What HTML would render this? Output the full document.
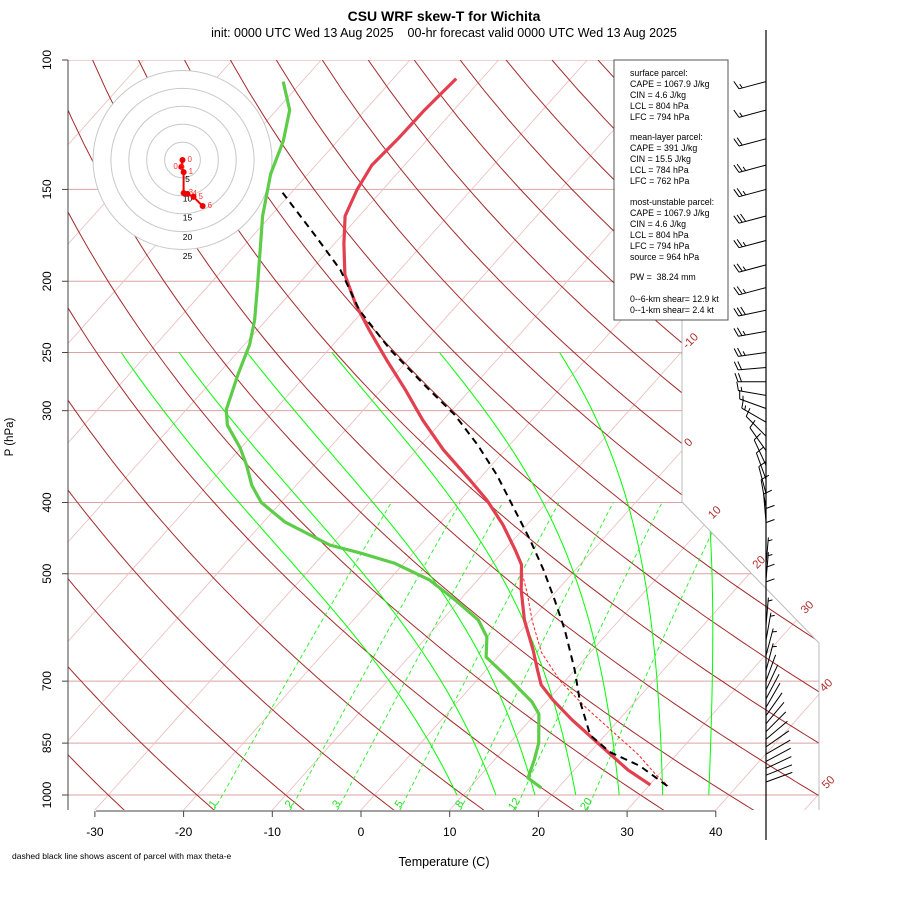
<!DOCTYPE html>
<html><head><meta charset="utf-8"><style>
html,body{margin:0;padding:0;background:#fff;}
svg{display:block;font-family:"Liberation Sans",sans-serif;}
</style></head><body>
<svg id="chart" width="900" height="900" viewBox="0 0 900 900">
<defs><clipPath id="plotclip"><path d="M68,60 L682,60 L682,502 L819,643 L819,810 L68,810 Z"/></clipPath></defs>
<rect x="0" y="0" width="900" height="900" fill="#fff"/>
<g id="grid" clip-path="url(#plotclip)"></g>
<g id="hodo"></g>
<g id="profiles"></g>
<g id="axes"></g>
<g id="barbs"></g>
<text x="444" y="21" text-anchor="middle" font-size="14" font-weight="bold">CSU WRF skew-T for Wichita</text>
<text x="444" y="37" text-anchor="middle" font-size="12.5" xml:space="preserve">init: 0000 UTC Wed 13 Aug 2025    00-hr forecast valid 0000 UTC Wed 13 Aug 2025</text>
<text x="444" y="866" text-anchor="middle" font-size="12.5">Temperature (C)</text>
<text x="0" y="0" transform="translate(13,437) rotate(-90)" text-anchor="middle" font-size="11.5">P (hPa)</text>
<text x="12" y="859" font-size="8.5">dashed black line shows ascent of parcel with max theta-e</text>
<g>
<rect x="614" y="60" width="114" height="260" fill="#fff" stroke="#555" stroke-width="1"/>
<g font-size="8.8" fill="#000">
<text x="630" y="76">surface parcel:</text>
<text x="630" y="87">CAPE = 1067.9 J/kg</text>
<text x="630" y="98">CIN = 4.6 J/kg</text>
<text x="630" y="109">LCL = 804 hPa</text>
<text x="630" y="120">LFC = 794 hPa</text>
<text x="630" y="140">mean-layer parcel:</text>
<text x="630" y="151">CAPE = 391 J/kg</text>
<text x="630" y="162">CIN = 15.5 J/kg</text>
<text x="630" y="173">LCL = 784 hPa</text>
<text x="630" y="184">LFC = 762 hPa</text>
<text x="630" y="205">most-unstable parcel:</text>
<text x="630" y="216">CAPE = 1067.9 J/kg</text>
<text x="630" y="227">CIN = 4.6 J/kg</text>
<text x="630" y="238">LCL = 804 hPa</text>
<text x="630" y="249">LFC = 794 hPa</text>
<text x="630" y="260">source = 964 hPa</text>
<text x="630" y="280" xml:space="preserve">PW =  38.24 mm</text>
<text x="630" y="302">0--6-km shear= 12.9 kt</text>
<text x="630" y="313">0--1-km shear= 2.4 kt</text>
</g>
</g>
</svg>
<script>
// ---- data ----
const tempP = [106,117,128,139,150,163,178,196,215,233,256,281,309,339,373,397,429,464,486,526,578,635,676,708,743,790,855,925,969];
const tempT = [-62.9,-63.3,-63.4,-63.7,-62.9,-61.6,-58.9,-55.7,-51.5,-47.4,-42.4,-37.3,-32.3,-27.0,-20.9,-17.0,-12.7,-8.8,-6.6,-4.1,-0.7,3.3,5.8,7.7,10.6,14.7,20.4,26.1,30.1];
const dewP = [107,117,129,143,163,181,206,226,244,268,299,314,337,356,379,400,425,457,469,484,510,543,578,610,649,700,747,776,850,896,948,978];
const dewT = [-82.1,-78.5,-76.1,-74.2,-70.9,-67.8,-64.0,-61.3,-59.4,-57.7,-55.5,-53.8,-50.1,-47.6,-45.0,-42.2,-37.6,-30.2,-25.8,-21.0,-15.4,-10.5,-5.9,-3.2,-1.3,4.0,8.4,10.4,13.3,14.5,15.6,18.1];
const parcelP = [972,913,874,829,743,676,597,543,494,450,410,367,334,304,277,248,219,193,173,150];
const parcelT = [32.1,27.0,22.2,18.3,13.6,10.0,4.9,0.7,-3.6,-8.1,-12.8,-18.4,-23.6,-29.2,-35.6,-43.0,-50.5,-56.7,-63.1,-71.6];
const virtP = [500,530,580,640,700,760,820,880,940,972];
const virtT = [-5.6,-3.2,0.3,4.5,9.5,15.0,20.5,25.6,29.8,32.2];
const isobars = [100,150,200,250,300,400,500,700,850,1000];
const xTicks = [-30,-20,-10,0,10,20,30,40];
const isothermLabelT = [-10,0,10,20,30,40,50];
const isothermLabelP = [243,334,416,486,560,715,969];
const dryTheta = [-40,-30,-20,-10,0,10,20,30,40,50,60,70,80,90,100,110,120,130,140,150,160,170,180];
const moistT1000 = [9.3,13.7,18.1,22.7,27.6,32.5,37.7];
const mixRatios = [1,2,3,5,8,12,20];
const hodoKm = ['0','0.5','1','3','4','5','6'];
const hodoU = [0,-0.3,0.3,0.3,1.3,2.9,5.3];
const hodoV = [0,-1.8,-3.2,-8.7,-8.9,-9.7,-12.1];
const hodoRings = [5,10,15,20,25];
const windP = [107,117,128,139,150,163,176,190,204,219,234,250,262,274,286,298,311,325,340,356,372,389,406,425,445,465,487,510,535,560,588,616,646,677,700,720,740,760,780,800,820,840,860,880,900,920,940,960];
const windDir = [255,255,255,255,255,255,255,255,255,258,260,262,265,270,280,290,300,315,325,335,340,345,350,355,0,0,5,5,0,0,5,10,15,15,20,25,28,30,35,40,45,50,55,60,62,65,68,70];
const windSpd = [15,15,20,25,25,30,25,25,25,30,25,25,20,20,15,15,15,10,10,10,10,10,10,10,10,10,5,5,10,10,5,5,5,5,3,3,3,3,3,3,3,3,3,3,3,3,3,3];

// ---- axes functions ----
const NS='http://www.w3.org/2000/svg';
function Y(p){return 60+735*Math.log10(p/100);}
function X(T,p){return 361+8.87*T+0.893*(810-Y(p));}
function mk(tag,attrs,parent){const e=document.createElementNS(NS,tag);for(const k in attrs)e.setAttribute(k,attrs[k]);parent.appendChild(e);return e;}
function pathFrom(pts){return pts.map((q,i)=>(i?'L':'M')+q[0].toFixed(1)+','+q[1].toFixed(1)).join(' ');}
const grid=document.getElementById('grid'),axes=document.getElementById('axes'),prof=document.getElementById('profiles'),hodo=document.getElementById('hodo'),barbs=document.getElementById('barbs');

// isobars
isobars.forEach(p=>{const l=mk('line',{x1:68,x2:820,y1:Y(p),y2:Y(p),stroke:'#dba3a3','stroke-width':1},grid);

});
// isotherms
for(let T=-140;T<=50;T+=10){const pts=[];for(let p=1060;p>=95;p-=20)pts.push([X(T,p),Y(p)]);
const e=mk('path',{d:pathFrom(pts),fill:'none',stroke:'#ecbcbc','stroke-width':0.8},grid);

}
// dry adiabats
dryTheta.forEach(th=>{const pts=[];for(let p=1060;p>=95;p-=10){const T=(th+273.15)*Math.pow(p/1000,0.2857)-273.15;pts.push([X(T,p),Y(p)]);}
const e=mk('path',{d:pathFrom(pts),fill:'none',stroke:'#a52a2a','stroke-width':1},grid);

});
// moist adiabats
function es(Tc){return 6.112*Math.exp(17.67*Tc/(Tc+243.5));}
function dTdp(Tc,p){const T=Tc+273.15,e=es(Tc),rs=0.74*0.622*e/(p-e),Lv=2.5e6,Rd=287,cp=1004;
return (1/p)*(Rd*T+Lv*rs)/(cp+Lv*Lv*rs*0.622/(Rd*T*T));}
moistT1000.forEach(t0=>{const pts=[];let T=t0;for(let p=1000;p>=250;p-=2){pts.push([X(T,p),Y(p)]);T-=dTdp(T,p)*2;}
const e=mk('path',{d:pathFrom(pts),fill:'none',stroke:'#00ff00','stroke-width':1},grid);

});
// mixing ratio lines
function tdFromW(w,p){const e=w*p/(622+w);const l=Math.log(e/6.112);return 243.5*l/(17.67-l);}
mixRatios.forEach(w=>{const pts=[];for(let p=1050;p>=400;p-=10)pts.push([X(tdFromW(w,p),p),Y(p)]);
const e=mk('path',{d:pathFrom(pts),fill:'none',stroke:'#22ee22','stroke-width':0.9,'stroke-dasharray':'4,3'},grid);


const x=X(tdFromW(w,1050),1050)+2;
const t=mk('text',{x:0,y:0,transform:`translate(${x.toFixed(1)},806) rotate(-55)`,'font-size':11,fill:'#22dd22','text-anchor':'middle'},axes);t.textContent=w;

});
// plot boundary (gray)
const b=mk('path',{d:'M682,60 L682,502 L819,643 L819,810',fill:'none',stroke:'#bbb','stroke-width':1},axes);


// isotherm labels
isothermLabelT.forEach((T,i)=>{const p=isothermLabelP[i];const x=X(T,p)+4,y=Y(p);
const t=mk('text',{x:0,y:0,transform:`translate(${x.toFixed(1)},${y.toFixed(1)}) rotate(-45)`,'font-size':11.5,fill:'#b03030','text-anchor':'middle'},axes);t.textContent=T;

});
// left axis
const la=mk('line',{x1:68,x2:68,y1:60,y2:810,stroke:'#444','stroke-width':1},axes);


isobars.forEach(p=>{const y=Y(p);mk('line',{x1:62,x2:68,y1:y,y2:y,stroke:'#444'},axes);
const t=mk('text',{x:0,y:0,transform:`translate(51,${y.toFixed(1)}) rotate(-90)`,'font-size':12,'text-anchor':'middle'},axes);t.textContent=p;

});
// bottom axis
const ba=mk('line',{x1:96,x2:716,y1:811,y2:811,stroke:'#444'},axes);


xTicks.forEach(T=>{const x=361+8.87*T;mk('line',{x1:x,x2:x,y1:811,y2:817,stroke:'#444'},axes);
const t=mk('text',{x:x,y:836,'font-size':12,'text-anchor':'middle'},axes);t.textContent=T;

});

// hodograph
const hx=182.5,hy=160,hk=3.58;
for(let i=hodoRings.length-1;i>=0;i--){const r=hodoRings[i]*hk;const c=mk('circle',{cx:hx,cy:hy,r:r,fill:'#fff',stroke:'#c8c8c8','stroke-width':1},hodo);

}
hodoRings.forEach(k=>{const t=mk('text',{x:hx+5,y:hy+k*3.84+3,'font-size':8.5,'text-anchor':'middle'},hodo);t.textContent=k;

});
const hpts=hodoU.map((u,i)=>[hx+u*3.8,hy-hodoV[i]*3.8]);
const hl=mk('path',{d:pathFrom(hpts),fill:'none',stroke:'#ee0000','stroke-width':2},hodo);


hpts.forEach((q,i)=>{const c=mk('circle',{cx:q[0],cy:q[1],r:3,fill:'#ee0000'},hodo);


const t=mk('text',{x:q[0]+(i===1?-8:5),y:q[1]+2,'font-size':8,fill:'#ff3030'},hodo);t.textContent=hodoKm[i];

});

// profiles
function prof_(P,T){return pathFrom(P.map((p,i)=>[X(T[i],p),Y(p)]));}
let e;
e=mk('path',{d:prof_(virtP,virtT),fill:'none',stroke:'#ff2020','stroke-width':1,'stroke-dasharray':'3,2'},prof);


e=mk('path',{d:prof_(tempP,tempT),fill:'none',stroke:'#e2404f','stroke-width':3.2,'stroke-linejoin':'round'},prof);


e=mk('path',{d:prof_(dewP,dewT),fill:'none',stroke:'#5dcc48','stroke-width':3.2,'stroke-linejoin':'round'},prof);


e=mk('path',{d:prof_(parcelP,parcelT),fill:'none',stroke:'#000','stroke-width':2,'stroke-dasharray':'7,5'},prof);



// wind barbs
const ax=766;
const wl=mk('line',{x1:ax,x2:ax,y1:30,y2:840,stroke:'#000','stroke-width':1.2},barbs);


windP.forEach((p,i)=>{const d=windDir[i]*Math.PI/180,y0=Y(p),L=28;
const sx=Math.sin(d),sy=-Math.cos(d);const ex=ax+sx*L,ey=y0+sy*L;
let path=`M${ax},${y0.toFixed(1)} L${ex.toFixed(1)},${ey.toFixed(1)}`;
const rx=-sy,ry=sx;const a=0.35;
const fx=rx*Math.cos(a)+sx*Math.sin(a),fy=ry*Math.cos(a)+sy*Math.sin(a);
let s=windSpd[i],pos=0;
while(s>=10){const bx=ex-sx*pos,by=ey-sy*pos;path+=` M${bx.toFixed(1)},${by.toFixed(1)} l${(fx*9).toFixed(1)},${(fy*9).toFixed(1)}`;pos+=3.5;s-=10;}
if(s>=5){if(pos===0)pos=3.5;const bx=ex-sx*pos,by=ey-sy*pos;path+=` M${bx.toFixed(1)},${by.toFixed(1)} l${(fx*4.5).toFixed(1)},${(fy*4.5).toFixed(1)}`;}
const g=mk('path',{d:path,fill:'none',stroke:'#000','stroke-width':1},barbs);

});
</script>
</body></html>
